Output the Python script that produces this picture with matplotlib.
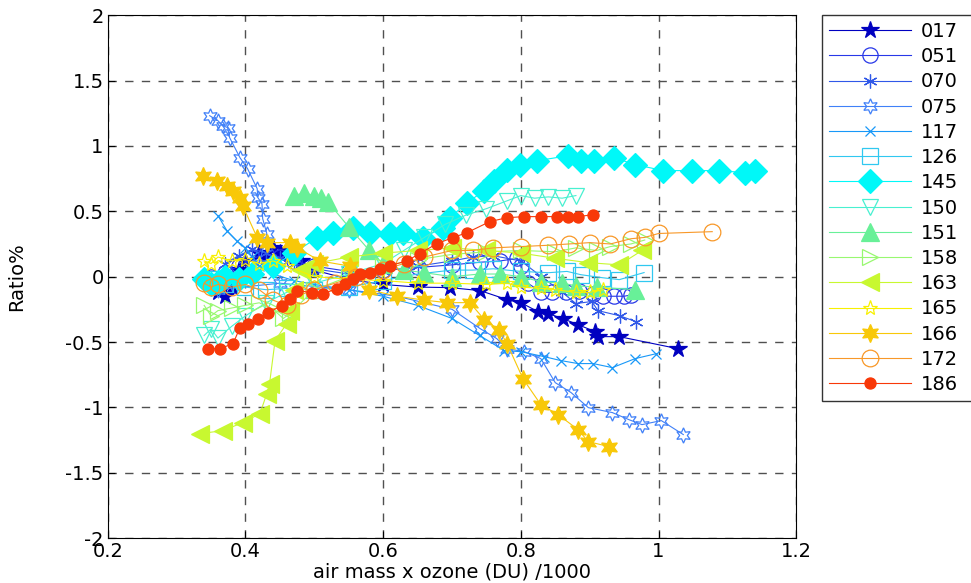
import matplotlib
matplotlib.use('Agg')
import matplotlib.pyplot as plt

plt.rcParams['font.family'] = ['DejaVu Sans']

labels = ['017', '051', '070', '075', '117', '126', '145', '150',
          '151', '158', '163', '165', '166', '172', '186']

x017 = [0.35, 0.36, 0.37, 0.38, 0.39, 0.40, 0.42, 0.43, 0.44, 0.45, 0.46, 0.47, 0.48, 0.50, 0.55,
        0.60, 0.65, 0.697, 0.741, 0.780, 0.800, 0.825, 0.840, 0.861, 0.883, 0.908, 0.912, 0.943, 1.028]
y017 = [-0.05, -0.12, -0.15, -0.08, 0.05, 0.12, 0.18, 0.15, 0.22, 0.18, 0.20, 0.15, 0.12, 0.05, -0.02,
        -0.06, -0.08, -0.084, -0.107, -0.176, -0.199, -0.268, -0.283, -0.321, -0.367, -0.421, -0.459, -0.459, -0.551]

x051 = [0.35, 0.37, 0.39, 0.41, 0.43, 0.45, 0.47, 0.50, 0.55, 0.60, 0.65, 0.70, 0.74, 0.77, 0.795,
        0.80, 0.81, 0.83, 0.845, 0.865, 0.885, 0.905, 0.92, 0.935, 0.95, 0.96]
y051 = [0.0, 0.03, 0.08, 0.14, 0.17, 0.15, 0.12, 0.08, 0.04, 0.05, 0.07, 0.09, 0.11, 0.12, 0.14,
        0.08, -0.05, -0.12, -0.12, -0.12, -0.11, -0.13, -0.15, -0.15, -0.15, -0.14]

x070 = [0.37, 0.39, 0.41, 0.43, 0.45, 0.47, 0.50, 0.55, 0.60, 0.65, 0.70, 0.73, 0.76, 0.80, 0.83,
        0.86, 0.880, 0.903, 0.912, 0.944, 0.967]
y070 = [0.10, 0.16, 0.21, 0.18, 0.14, 0.10, 0.06, 0.02, 0.04, 0.08, 0.12, 0.15, 0.16, 0.12, 0.00,
        -0.12, -0.206, -0.19, -0.26, -0.30, -0.344]

x075 = [0.348, 0.360, 0.367, 0.374, 0.377, 0.392, 0.403, 0.417, 0.418, 0.424, 0.425, 0.431, 0.42,
        0.40, 0.38, 0.36, 0.45, 0.55, 0.62, 0.70, 0.741, 0.765, 0.780, 0.805, 0.829, 0.850, 0.873,
        0.898, 0.933, 0.957, 0.976, 1.004, 1.036]
y075 = [1.231, 1.193, 1.155, 1.140, 1.063, 0.910, 0.826, 0.673, 0.604, 0.558, 0.444, 0.329, 0.10,
        0.0, -0.05, -0.10, -0.05, -0.10, -0.15, -0.25, -0.398, -0.474, -0.551, -0.574, -0.627, -0.811, -0.887,
        -1.002, -1.040, -1.094, -1.132, -1.101, -1.208]

x117 = [0.360, 0.373, 0.387, 0.399, 0.41, 0.42, 0.44, 0.47, 0.50, 0.55, 0.60, 0.65, 0.70, 0.74,
        0.776, 0.800, 0.834, 0.858, 0.883, 0.905, 0.933, 0.966, 0.997]
y117 = [0.467, 0.352, 0.275, 0.222, 0.15, 0.08, 0.02, -0.03, -0.06, -0.10, -0.15, -0.22, -0.32, -0.45,
        -0.566, -0.574, -0.612, -0.642, -0.665, -0.665, -0.696, -0.627, -0.589]

x126 = [0.35, 0.37, 0.40, 0.43, 0.46, 0.50, 0.55, 0.60, 0.65, 0.70, 0.73, 0.76, 0.80, 0.84, 0.867,
        0.887, 0.918, 0.943, 0.979]
y126 = [-0.02, -0.06, -0.08, -0.10, -0.09, -0.10, -0.08, -0.03, 0.02, 0.05, 0.05, 0.06, 0.04, 0.03, 0.04,
        0.015, -0.008, -0.023, 0.031]

x145 = [0.34, 0.35, 0.36, 0.37, 0.39, 0.41, 0.44, 0.47, 0.504, 0.527, 0.556, 0.581, 0.610, 0.629,
        0.658, 0.687, 0.697, 0.722, 0.747, 0.761, 0.780, 0.799, 0.824, 0.869, 0.888, 0.906, 0.935,
        0.966, 1.007, 1.049, 1.088, 1.126, 1.140]
y145 = [-0.02, -0.06, -0.04, 0.0, -0.02, 0.02, 0.08, 0.18, 0.298, 0.337, 0.375, 0.337, 0.329, 0.337,
        0.298, 0.375, 0.451, 0.566, 0.658, 0.734, 0.818, 0.857, 0.887, 0.925, 0.887, 0.887, 0.910,
        0.857, 0.811, 0.811, 0.811, 0.795, 0.811]

x150 = [0.34, 0.35, 0.36, 0.38, 0.40, 0.43, 0.46, 0.50, 0.55, 0.60, 0.63, 0.66, 0.69, 0.72, 0.75,
        0.78, 0.80, 0.82, 0.84, 0.86, 0.88]
y150 = [-0.45, -0.40, -0.47, -0.38, -0.30, -0.20, -0.12, -0.05, 0.02, 0.10, 0.20, 0.30, 0.40, 0.47, 0.52,
        0.58, 0.62, 0.60, 0.61, 0.60, 0.62]

x151 = [0.47, 0.485, 0.50, 0.51, 0.52, 0.55, 0.58, 0.60, 0.63, 0.66, 0.70, 0.74, 0.77, 0.80, 0.83,
        0.86, 0.88, 0.91, 0.966]
y151 = [0.62, 0.64, 0.62, 0.60, 0.57, 0.38, 0.20, 0.10, 0.05, 0.03, 0.00, 0.02, 0.02, 0.00, -0.04,
        -0.05, -0.07, -0.08, -0.10]

x158 = [0.34, 0.35, 0.36, 0.38, 0.40, 0.42, 0.44, 0.455, 0.465, 0.50, 0.55, 0.60, 0.65, 0.70, 0.75,
        0.80, 0.85, 0.88, 0.91, 0.93, 0.96, 0.98]
y158 = [-0.22, -0.30, -0.26, -0.24, -0.22, -0.20, -0.25, -0.32, -0.28, -0.10, 0.00, 0.08, 0.13, 0.17, 0.19,
        0.20, 0.19, 0.22, 0.20, 0.23, 0.25, 0.28]

x163 = [0.334, 0.367, 0.396, 0.421, 0.431, 0.435, 0.443, 0.460, 0.465, 0.47, 0.48, 0.50, 0.55, 0.60,
        0.65, 0.70, 0.75, 0.80, 0.85, 0.898, 0.943, 0.976]
y163 = [-1.201, -1.178, -1.117, -1.048, -0.895, -0.818, -0.489, -0.359, -0.26, -0.10, 0.05, 0.10, 0.15, 0.18,
        0.20, 0.22, 0.20, 0.18, 0.14, 0.107, 0.09, 0.20]

x165 = [0.34, 0.35, 0.36, 0.38, 0.40, 0.42, 0.44, 0.46, 0.50, 0.55, 0.60, 0.65, 0.70, 0.75, 0.78,
        0.80, 0.83, 0.85, 0.88, 0.90, 0.92]
y165 = [0.12, 0.10, 0.15, 0.12, 0.13, 0.10, 0.12, 0.08, 0.00, -0.02, -0.03, -0.05, -0.05, -0.06, -0.05,
        -0.08, -0.09, -0.10, -0.12, -0.12, -0.10]

x166 = [0.338, 0.358, 0.373, 0.382, 0.392, 0.396, 0.417, 0.431, 0.465, 0.475, 0.508, 0.552, 0.58,
        0.62, 0.66, 0.693, 0.726, 0.747, 0.768, 0.780, 0.803, 0.829, 0.854, 0.883, 0.898, 0.928]
y166 = [0.772, 0.734, 0.696, 0.658, 0.604, 0.543, 0.298, 0.260, 0.260, 0.222, 0.12, 0.08, -0.10,
        -0.15, -0.18, -0.199, -0.199, -0.329, -0.405, -0.512, -0.780, -0.979, -1.055, -1.170, -1.262, -1.300]

x172 = [0.34, 0.35, 0.36, 0.38, 0.40, 0.42, 0.44, 0.46, 0.48, 0.50, 0.53, 0.56, 0.60, 0.63, 0.66,
        0.70, 0.73, 0.76, 0.80, 0.84, 0.87, 0.90, 0.93, 0.96, 0.98, 1.00, 1.078]
y172 = [-0.05, -0.08, -0.06, -0.08, -0.06, -0.10, -0.18, -0.22, -0.14, -0.10, -0.05, 0.00, 0.05, 0.10, 0.15,
        0.20, 0.20, 0.22, 0.23, 0.24, 0.25, 0.26, 0.25, 0.29, 0.30, 0.33, 0.344]

x186 = [0.345, 0.363, 0.382, 0.392, 0.403, 0.418, 0.433, 0.453, 0.465, 0.475, 0.497, 0.513, 0.533,
        0.544, 0.556, 0.566, 0.581, 0.595, 0.610, 0.635, 0.653, 0.678, 0.701, 0.722, 0.755, 0.780,
        0.805, 0.829, 0.853, 0.869, 0.883, 0.905]
y186 = [-0.551, -0.551, -0.512, -0.390, -0.359, -0.321, -0.275, -0.222, -0.168, -0.107, -0.122, -0.130, -0.092,
        -0.054, -0.015, 0.023, 0.031, 0.061, 0.084, 0.122, 0.176, 0.252, 0.298, 0.337, 0.421, 0.451,
        0.459, 0.459, 0.459, 0.459, 0.459, 0.474]

xs = [x017, x051, x070, x075, x117, x126, x145, x150, x151, x158, x163, x165, x166, x172, x186]
ys = [y017, y051, y070, y075, y117, y126, y145, y150, y151, y158, y163, y165, y166, y172, y186]

colors = ['#0000C0', '#2838E8', '#3058E8', '#4080F8', '#1898F8', '#30C8F0', '#00F8F8', '#48F0D0',
          '#68F098', '#98F870', '#C8F830', '#F8F000', '#F8C808', '#F89828', '#F83808']
markers = ['*', 'o', (6, 2, 0), (6, 1, 0), 'x', 's', 'D', 'v', '^', '>', '<', '*', (6, 1, 0), 'o', 'o']
filled = [True, False, False, False, False, False, True, False, True, False, True, False, True, False, True]
sizes = [13, 11, 10, 11, 7, 11, 12, 11, 13, 11, 13, 11, 13, 12, 8]

fig = plt.figure(figsize=(9.71, 5.83), dpi=100)
ax = fig.add_axes([0.111, 0.077, 0.709, 0.897])

for x, y, lab, c, m, f, s in zip(xs, ys, labels, colors, markers, filled, sizes):
    ax.plot(x, y, color=c, marker=m, markersize=s, linewidth=0.8,
            markerfacecolor=c if f else 'none', markeredgecolor=c,
            markeredgewidth=0.9, label=lab)

ax.set_xlim(0.2, 1.2)
ax.set_ylim(-2, 2)
ax.set_xticks([0.2, 0.4, 0.6, 0.8, 1.0, 1.2])
ax.set_xticklabels(['0.2', '0.4', '0.6', '0.8', '1', '1.2'])
ax.set_yticks([-2, -1.5, -1, -0.5, 0, 0.5, 1, 1.5, 2])
ax.set_yticklabels(['-2', '-1.5', '-1', '-0.5', '0', '0.5', '1', '1.5', '2'])
ax.tick_params(direction='in', labelsize=14, length=5, pad=3)
ax.grid(True, linestyle=(0, (6, 6)), color='#505050', linewidth=1.0)
ax.set_xlabel('air mass x ozone (DU) /1000', fontsize=14, labelpad=1)
ax.set_ylabel('Ratio%', fontsize=14, labelpad=28)

leg = ax.legend(loc='upper left', bbox_to_anchor=(0.847, 0.05, 0.2, 0.924),
                bbox_transform=fig.transFigure, mode='expand',
                frameon=True, fancybox=False, edgecolor='black', fontsize=14,
                handlelength=4.2, labelspacing=0.32, borderpad=0.35, handletextpad=0.5,
                borderaxespad=0)
leg.get_frame().set_linewidth(1.0)

fig.savefig('out.png', dpi=100)
